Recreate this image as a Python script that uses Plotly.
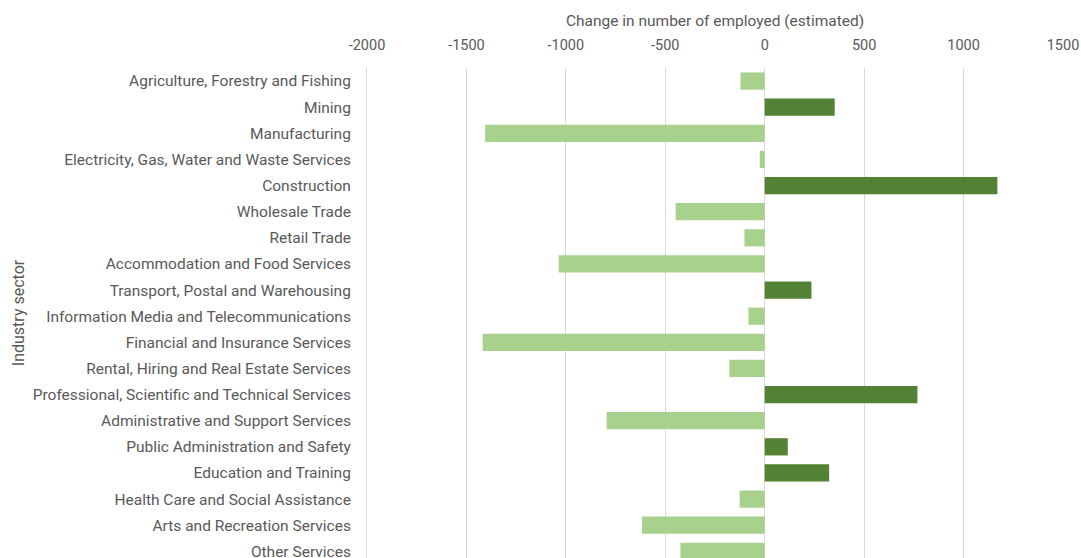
import plotly.graph_objects as go

categories = [
    "Agriculture, Forestry and Fishing",
    "Mining",
    "Manufacturing",
    "Electricity, Gas, Water and Waste Services",
    "Construction",
    "Wholesale Trade",
    "Retail Trade",
    "Accommodation and Food Services",
    "Transport, Postal and Warehousing",
    "Information Media and Telecommunications",
    "Financial and Insurance Services",
    "Rental, Hiring and Real Estate Services",
    "Professional, Scientific and Technical Services",
    "Administrative and Support Services",
    "Public Administration and Safety",
    "Education and Training",
    "Health Care and Social Assistance",
    "Arts and Recreation Services",
    "Other Services",
]
change = [-122, 352, -1406, -25, 1170, -448, -102, -1036, 235, -82,
          -1418, -178, 768, -795, 116, 324, -126, -617, -424]
x_ticks = [-2000, -1500, -1000, -500, 0, 500, 1000, 1500]
x_tick_labels = ["-2000", "-1500", "-1000", "-500", "0", "500", "1000", "1500"]

POS_COLOR = "#548235"
NEG_COLOR = "#A9D18E"
colors = [POS_COLOR if v >= 0 else NEG_COLOR for v in change]

fig = go.Figure(go.Bar(
    x=change, y=categories, orientation="h",
    marker=dict(color=colors, line=dict(width=0)),
    hoverinfo="x+y",
))

font_color = "#595959"
fs = 15.5
fig.update_layout(
    width=1081, height=558,
    margin=dict(l=367, r=18, t=68, b=0),
    paper_bgcolor="white", plot_bgcolor="white",
    font=dict(family="Roboto, Arial, sans-serif", size=fs, color=font_color),
    bargap=0.34,
    showlegend=False,
)
fig.update_xaxes(
    side="top", range=[-2000, 1500], tickvals=x_ticks, ticktext=x_tick_labels,
    showgrid=True, gridcolor="#D9D9D9", gridwidth=1,
    zeroline=True, zerolinecolor="#D9D9D9", zerolinewidth=1,
    showline=False, ticks="", ticklabelstandoff=14, automargin=False,
    tickfont=dict(size=14.5, color=font_color),
    title=dict(text="Change in number of employed (estimated)",
               font=dict(size=fs, color=font_color), standoff=6),
)
fig.update_yaxes(
    type="category", categoryorder="array", categoryarray=categories,
    range=[18.255, -0.5], showgrid=False, zeroline=False,
    showline=True, linecolor="#D9D9D9", linewidth=1,
    ticks="", ticklabelstandoff=12, automargin=False,
    tickfont=dict(size=fs, color=font_color),
    title=dict(text="Industry sector", font=dict(size=16, color=font_color), standoff=4),
)
fig.write_html(
    "out.html",
    config={"displayModeBar": False},
    post_script="document.body.style.margin='0';document.body.style.overflow='hidden';",
)
